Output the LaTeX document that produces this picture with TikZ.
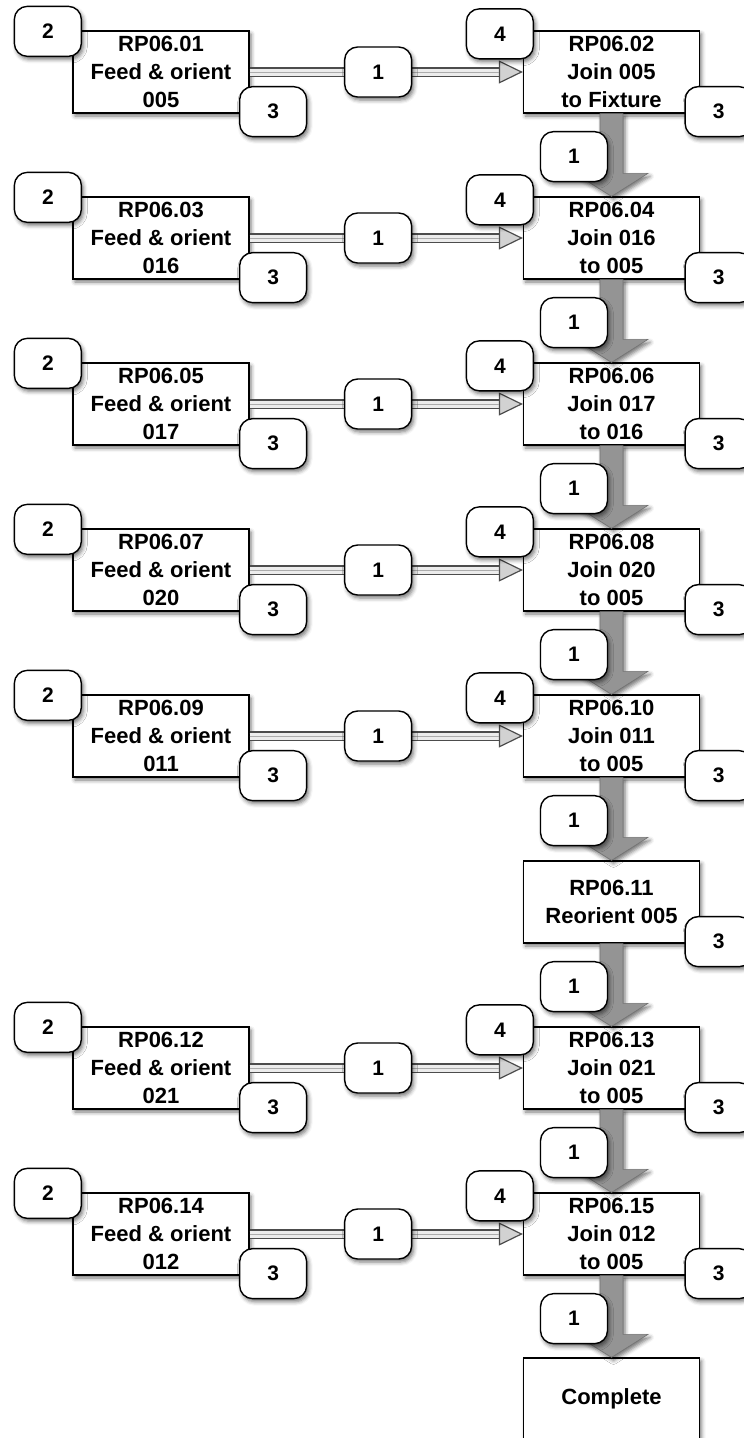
\documentclass[tikz,border=0pt]{standalone}
\usepackage{fontspec}
\setmainfont{Liberation Sans}
\usetikzlibrary{positioning,calc,arrows.meta,shadows.blur}

\tikzset{
  softshadow/.style={blur shadow={shadow xshift=2pt, shadow yshift=-3pt,
      shadow blur radius=4pt, shadow opacity=55}},
  stepbox/.style={rectangle, draw=black, line width=1.3pt, fill=white,
      minimum width=176pt, minimum height=82pt, inner sep=0pt,
      align=center, font=\fontsize{22}{28}\selectfont\bfseries, softshadow},
  tagbox/.style={rectangle, rounded corners=13pt,
      draw=black, line width=1.4pt, fill=white, minimum width=67pt,
      minimum height=50pt, inner sep=0pt,
      font=\fontsize{21}{22}\selectfont\bfseries, softshadow},
  feedline/.style={draw=black!70, line width=1.2pt, double=gray!15,
      double distance=7pt,
      -{Triangle[open, length=24pt, width=23pt, fill=gray!35]}},
  feedcore/.style={draw=gray!65, line width=1pt, shorten >=24pt},
  flowbody/.style={draw=black!55, line width=0.6pt, fill=black!42, softshadow}
}

% big grey arrow from one station down to the next
\newcommand{\flowarrow}[2]{%
  \filldraw[flowbody] ($(#1.south)+(-11.5,0)$) -- ($(#2.north)+(-11.5,-23)$)
    -- ($(#2.north)+(-36.5,-23)$) -- (#2.north) -- ($(#2.north)+(36.5,-23)$)
    -- ($(#2.north)+(11.5,-23)$) -- ($(#1.south)+(11.5,0)$) -- cycle;}

\begin{document}
\begin{tikzpicture}[x=1pt, y=-1pt]
  \useasboundingbox (0,0) rectangle (744,1438);

  % Main line stations
  \foreach \k/\txt in {0/{RP06.02\\Join 005\\to Fixture}, 1/{RP06.04\\Join 016\\to 005},
      2/{RP06.06\\Join 017\\to 016}, 3/{RP06.08\\Join 020\\to 005},
      4/{RP06.10\\Join 011\\to 005}, 5/{RP06.11\\Reorient 005},
      6/{RP06.13\\Join 021\\to 005}, 7/{RP06.15\\Join 012\\to 005}}
    \node[stepbox] (asm\k) at (611.5, 72+166*\k) {\txt};
  \node[stepbox] (asm8) at (611.5, 1399) {Complete};

  % Feed stations
  \foreach \k/\fid/\part in {0/01/005, 1/03/016, 2/05/017, 3/07/020,
      4/09/011, 6/12/021, 7/14/012}
    \node[stepbox] (feed\k) at (161, 72+166*\k) {RP06.\fid\\Feed \& orient\\\part};

  % Flow down the main line
  \foreach \k [evaluate=\k as \n using int(\k+1)] in {0,...,7}
    \flowarrow{asm\k}{asm\n};

  % Feeds into the main line
  \foreach \k in {0,1,2,3,4,6,7} {
    \draw[feedline] (feed\k) -- (asm\k);
    \draw[feedcore] (feed\k) -- (asm\k);
  }

  % Tags on the feed stations
  \foreach \k in {0,1,2,3,4,6,7} {
    \node[tagbox, xshift=-24.5pt, yshift=-1pt] (in\k) at (feed\k.north west) {2};
    \node[tagbox, xshift=23.5pt, yshift=2pt] (out\k) at (feed\k.south east) {3};
    \node[tagbox, xshift=128.5pt] (move\k) at (feed\k.east) {1};
    \node[tagbox, xshift=-23pt, yshift=-3.5pt] (join\k) at (asm\k.north west) {4};
  }

  % Tags on the main line
  \foreach \k in {0,...,7} {
    \node[tagbox, xshift=18.5pt, yshift=2pt] (rej\k) at (asm\k.south east) {3};
    \node[tagbox, xshift=-37.5pt, yshift=-43pt] (down\k) at (asm\k.south) {1};
  }
\end{tikzpicture}
\end{document}
